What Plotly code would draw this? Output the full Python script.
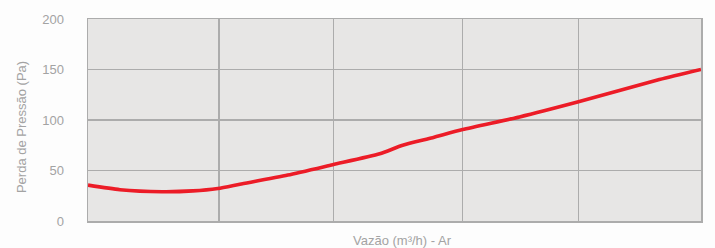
import plotly.graph_objects as go

# Curve data (x in arbitrary flow units, y in Pa)
flow = [0, 32, 74, 105, 130, 152, 200, 245, 292, 315, 345, 375, 432, 491, 572, 613.7]
pressure = [35.5, 31, 29, 29.8, 32.2, 36.4, 45.5, 55.7, 66.5, 75, 82.5, 90.5, 103, 118, 140, 150]

x_grid = [0, 131, 246, 375, 491, 613.7]
y_ticks = [0, 50, 100, 150, 200]

grey_text = "#a3a3a3"
grid_col = "#acacac"

fig = go.Figure()
fig.add_trace(go.Scatter(
    x=flow, y=pressure, mode="lines",
    line=dict(color="#ec1c27", width=3.6, shape="spline", smoothing=0.6),
    hoverinfo="skip", showlegend=False,
))

fig.update_layout(
    width=715, height=248,
    margin=dict(l=88, r=13, t=14, b=27),
    paper_bgcolor="#fdfdfd",
    plot_bgcolor="#e7e6e5",
    font=dict(family="Liberation Sans, Arial, sans-serif", size=13, color=grey_text),
    xaxis=dict(
        range=[x_grid[0], x_grid[-1]], tickvals=x_grid, showticklabels=False,
        showgrid=True, gridcolor=grid_col, gridwidth=1.5,
        showline=True, linecolor=grid_col, linewidth=1.5, mirror=True,
        zeroline=False, ticks="", fixedrange=True,
    ),
    yaxis=dict(
        range=[0, 200], tickvals=y_ticks,
        showgrid=True, gridcolor=grid_col, gridwidth=1.5,
        showline=True, linecolor=grid_col, linewidth=1.5, mirror=True,
        zeroline=False, ticks="", ticklabelstandoff=20,
        tickfont=dict(size=13, color=grey_text), fixedrange=True,
    ),
    annotations=[
        dict(text="Vazão (m³/h) - Ar", xref="paper", yref="paper", x=0.513, y=0,
             yshift=-19, xanchor="center", yanchor="middle", showarrow=False,
             font=dict(size=13, color=grey_text)),
        dict(text="Perda de Pressão (Pa)", xref="paper", yref="paper", x=0, y=0.465,
             xshift=-67, xanchor="center", yanchor="middle", showarrow=False, textangle=-90,
             font=dict(size=13, color=grey_text)),
    ],
)

fig.write_html(
    "out.html",
    config={"displayModeBar": False, "staticPlot": True},
    post_script="document.body.style.margin='0';document.body.style.padding='0';document.body.style.overflow='hidden';",
)
